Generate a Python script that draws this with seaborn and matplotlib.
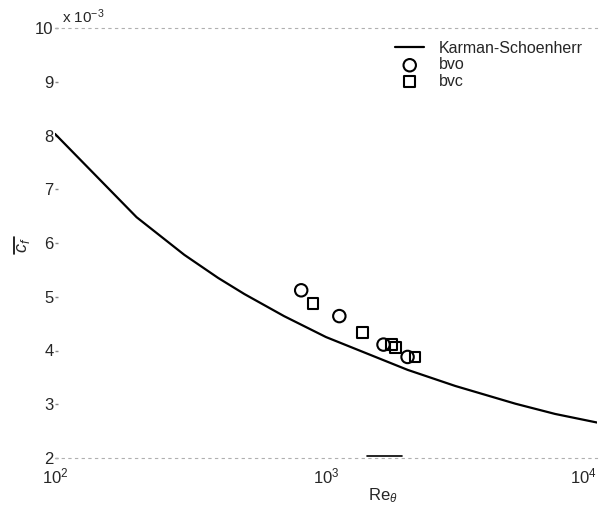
import numpy as np
import pandas as pd
import matplotlib
matplotlib.use("Agg")
import matplotlib.pyplot as plt
import matplotlib.transforms as mtransforms
import seaborn as sns
from matplotlib.lines import Line2D

# Karman-Schoenherr curve (units of 1e-3)
ks_re = [100, 200, 300, 400, 500, 700, 1000, 2000, 3000, 5000, 7000, 10000]
ks_cf = [8.03, 6.48, 5.78, 5.35, 5.05, 4.64, 4.25, 3.64, 3.34, 3.01, 2.82, 2.66]

bvo_re = [810, 1120, 1630, 2000]
bvo_cf = [5.12, 4.64, 4.11, 3.88]

bvc_re = [895, 1365, 1750, 1800, 2130]
bvc_cf = [4.88, 4.34, 4.11, 4.06, 3.88]

yticks = [2, 3, 4, 5, 6, 7, 8, 9, 10]
xticks = [100, 1000, 10000]
xticklabels = [r'$10^2$', r'$10^3$', r'$10^4$']

sns.set_style("white")
plt.rcParams['font.family'] = ['Liberation Sans', 'DejaVu Sans']
plt.rcParams['mathtext.fontset'] = 'custom'
plt.rcParams['mathtext.rm'] = 'Liberation Sans'
plt.rcParams['mathtext.it'] = 'Liberation Sans:italic'

fig = plt.figure(figsize=(6.07, 5.09), dpi=100)
ax = fig.add_axes([55/607, 1 - 458/509, (597-55)/607, (458-28)/509])

ks = pd.DataFrame({"Re": ks_re, "cf": ks_cf})
bvo = pd.DataFrame({"Re": bvo_re, "cf": bvo_cf})
bvc = pd.DataFrame({"Re": bvc_re, "cf": bvc_cf})

sns.lineplot(data=ks, x="Re", y="cf", ax=ax, color="black", lw=1.6,
             label="Karman-Schoenherr")
sns.scatterplot(data=bvo, x="Re", y="cf", ax=ax, marker="o", s=80,
                facecolor="none", edgecolor="black", linewidth=1.5, label="bvo")
sns.scatterplot(data=bvc, x="Re", y="cf", ax=ax, marker="s", s=60,
                facecolor="none", edgecolor="black", linewidth=1.5, label="bvc")

ax.set_xscale("log")
ax.set_xlim(100, 10000)
ax.set_ylim(2, 10)
ax.set_xticks(xticks)
ax.set_xticklabels(xticklabels, fontsize=12)
xl = ax.get_xticklabels()
xl[-1].set_horizontalalignment('right')
xl[-1].set_transform(xl[-1].get_transform() +
                     mtransforms.ScaledTranslation(9/100, 0, fig.dpi_scale_trans))
ax.minorticks_off()
ax.set_yticks(yticks)
ax.set_yticklabels([str(t) for t in yticks], fontsize=12)
ax.tick_params(axis='x', length=0, pad=6)
ax.tick_params(axis='y', length=2, width=1, color='#888888', direction='in', pad=1, left=True)

for s in ['left', 'right']:
    ax.spines[s].set_visible(False)
for s in ['top', 'bottom']:
    ax.spines[s].set_visible(True)
    ax.spines[s].set_color('#b0b0b0')
    ax.spines[s].set_linestyle((0, (2, 4)))
    ax.spines[s].set_linewidth(0.8)

ax.set_xlabel(r'Re$_\theta$', fontsize=12)
ax.xaxis.set_label_coords((383-55)/542, -0.065)
ax.set_ylabel('')
fig.text(23/607, 1-245/509, r'$c_f$', rotation=90, fontsize=13, ha='center', va='center')

# bars (decorative overlines)
fig.add_artist(Line2D([367/607, 402/607], [1-456/509, 1-456/509], color='black', lw=1.2))
fig.add_artist(Line2D([14/607, 14/607], [1-237/509, 1-254/509], color='black', lw=1.2))

fig.text(62/607, 1-17/509, r'x 10$^{-3}$', fontsize=11, ha='left', va='center')

leg = ax.legend(loc='upper right', frameon=False, fontsize=11.5, handlelength=1.8,
                handletextpad=0.9, borderaxespad=0.0, labelspacing=0.1,
                bbox_to_anchor=(0.985, 0.985))

fig.savefig("out.png", dpi=100, facecolor="white")
